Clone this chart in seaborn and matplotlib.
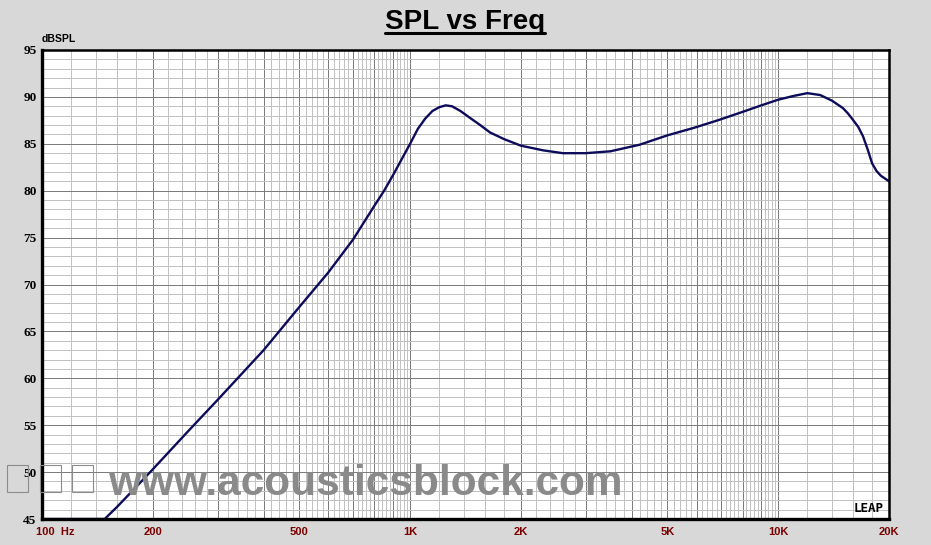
import numpy as np
import pandas as pd
import seaborn as sns
import matplotlib.pyplot as plt
from matplotlib.lines import Line2D
from matplotlib.patches import Rectangle
from matplotlib.ticker import FixedLocator, NullFormatter
import matplotlib.transforms as mtransforms

# SPL response
freq = [100, 148, 160, 180, 200, 250, 300, 400, 500, 600, 700, 800, 850,
        900, 950, 1000, 1050, 1100, 1150, 1200, 1250, 1300, 1370, 1450,
        1550, 1650, 1800, 2000, 2300, 2600, 3000, 3500, 4200, 5000, 5900,
        6850, 8000, 9000, 10000, 11000, 12000, 13000, 14000, 15000, 15500,
        16000, 16500, 17000, 17500, 18000, 18500, 19000, 19500, 20000]
spl = [45.0, 45.0, 46.3, 48.4, 50.3, 54.4, 57.7, 63.0, 67.6, 71.3, 74.8,
       78.4, 80.0, 81.7, 83.4, 85.0, 86.6, 87.7, 88.5, 88.9, 89.1, 89.0,
       88.5, 87.8, 87.0, 86.2, 85.5, 84.8, 84.3, 84.0, 84.0, 84.2, 84.9,
       85.9, 86.7, 87.5, 88.4, 89.1, 89.7, 90.1, 90.4, 90.2, 89.6, 88.8,
       88.2, 87.5, 86.8, 85.8, 84.4, 82.9, 82.1, 81.6, 81.3, 81.0]

x_labels = {100: '100  Hz', 200: '200', 500: '500', 1000: '1K', 2000: '2K',
            5000: '5K', 10000: '10K', 20000: '20K'}
y_ticks = [45, 50, 55, 60, 65, 70, 75, 80, 85, 90, 95]

df = pd.DataFrame({'freq': freq, 'spl': spl})

sns.set_style('white')
plt.rcParams['font.family'] = ['Liberation Sans', 'DejaVu Sans']
plt.rcParams['text.color'] = 'black'

fig = plt.figure(figsize=(9.31, 5.45), dpi=100, facecolor='#d8d8d8')
ax = fig.add_axes([42 / 931, 1 - 519 / 545, 847 / 931, 469 / 545])
ax.set_facecolor('white')

sns.lineplot(data=df, x='freq', y='spl', ax=ax, color='#0c0c5a',
             linewidth=1.7, sort=False, estimator=None, zorder=5)

ax.set_xscale('log')
ax.set_xlim(100, 20000)
ax.set_ylim(45, 95)

# grid: major every 100/1K/10K, minor every 1/5 of that
major_x = list(range(100, 1000, 100)) + list(range(1000, 10000, 1000)) + [10000, 20000]
minor_x = ([f for f in range(100, 1000, 20) if f % 100] +
           [f for f in range(1000, 10000, 200) if f % 1000] +
           list(range(12000, 20000, 2000)))
ax.xaxis.set_major_locator(FixedLocator(major_x))
ax.xaxis.set_minor_locator(FixedLocator(minor_x))
ax.set_xticklabels([x_labels.get(f, '') for f in major_x])
ax.xaxis.set_minor_formatter(NullFormatter())

ax.yaxis.set_major_locator(FixedLocator(y_ticks))
ax.yaxis.set_minor_locator(FixedLocator([v for v in range(45, 96) if v % 5]))
ax.set_yticklabels([str(v) for v in y_ticks])

ax.grid(which='major', color='#7c7c7c', linewidth=0.72)
ax.grid(which='minor', color='#c2c2c2', linewidth=0.72)
ax.set_axisbelow(True)

ax.tick_params(which='both', length=0)
ax.tick_params(axis='x', pad=6, labelsize=8, labelcolor='#7a0000')
ax.tick_params(axis='y', pad=4, labelsize=9.5, labelcolor='black')
for lab in ax.get_xticklabels():
    lab.set_fontweight('bold')
for lab in ax.get_yticklabels():
    lab.set_fontweight('bold')
    lab.set_fontfamily(['Liberation Serif', 'DejaVu Serif'])

# first x label sits to the right of the axis corner
first = ax.get_xticklabels()[0]
first.set_horizontalalignment('left')
first.set_transform(first.get_transform() +
                    mtransforms.ScaledTranslation(-6 / 100, 0, fig.dpi_scale_trans))

ax.set_xlabel('')
ax.set_ylabel('')

for side in ['left', 'bottom']:
    ax.spines[side].set_linewidth(2.4)
for side in ['top', 'right']:
    ax.spines[side].set_linewidth(1.8)
for sp in ax.spines.values():
    sp.set_color('black')
    sp.set_zorder(6)

ax.text(0, 1.013, 'dBSPL', transform=ax.transAxes, ha='left', va='bottom',
        fontsize=7.5, fontweight='bold', color='black')

# LEAP logo
ax.text(0.994, 0.008, 'LEAP', transform=ax.transAxes, ha='right', va='bottom',
        fontsize=9, fontweight='bold', fontfamily='DejaVu Sans Mono',
        color='black', zorder=7)

# watermark
fig.text(108 / 931, 1 - 495 / 545, 'www.acousticsblock.com', ha='left',
         va='baseline', fontsize=30.5, fontweight='bold', color='#8a8a8a', zorder=10)
for bx in [7, 40, 72]:
    fig.add_artist(Rectangle((bx / 931, 1 - 492 / 545), 21 / 931, 27 / 545,
                             transform=fig.transFigure, fill=False,
                             edgecolor='#8c8c8c', linewidth=0.8, zorder=10))

# title with underline
title = fig.text(465 / 931, 1 - 29 / 545, 'SPL vs Freq', ha='center',
                 va='baseline', fontsize=20, fontweight='bold', color='black')
fig.canvas.draw()
bb = title.get_window_extent().transformed(fig.transFigure.inverted())
uy = 1 - 32.5 / 545
fig.add_artist(Line2D([bb.x0, bb.x1], [uy, uy], transform=fig.transFigure,
                      color='black', linewidth=2.2))

fig.savefig('out.png', dpi=100, facecolor=fig.get_facecolor())
